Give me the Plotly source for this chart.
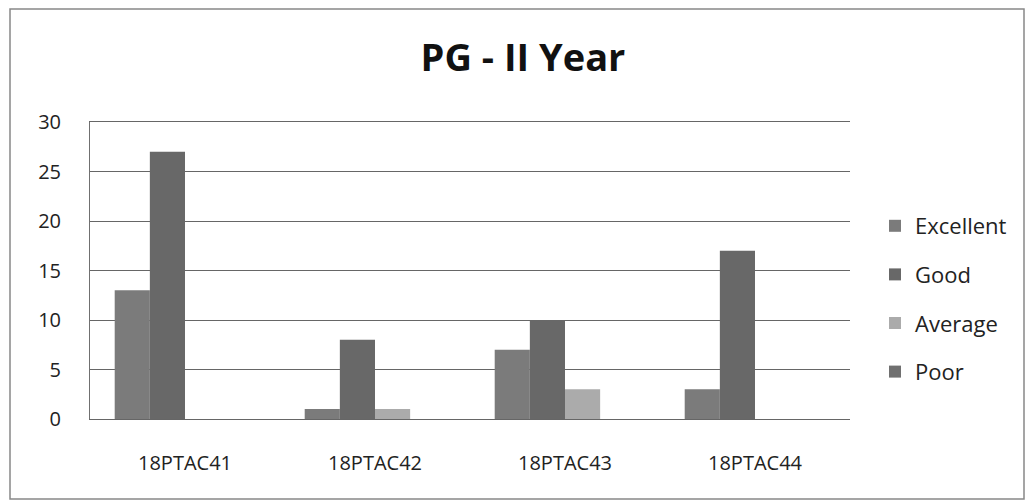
import plotly.graph_objects as go

categories = ["18PTAC41", "18PTAC42", "18PTAC43", "18PTAC44"]
series_names = ["Excellent", "Good", "Average", "Poor"]
excellent = [13, 1, 7, 3]
good = [27, 8, 10, 17]
average = [0, 1, 3, 0]
poor = [0, 0, 0, 0]
y_ticks = [0, 5, 10, 15, 20, 25, 30]

values = [excellent, good, average, poor]
colors = ["#7b7b7b", "#686868", "#ababab", "#707070"]

W, H = 1028, 502
L, R, T, B = 90, 178, 122, 83
pw, ph = W - L - R, H - T - B

def px_x(px):
    return (px - L) / pw

def px_y(py):
    return (H - B - py) / ph

fig = go.Figure()
for i, (name, vals) in enumerate(zip(series_names, values)):
    fig.add_trace(go.Bar(
        x=categories, y=vals, name=name, legendgroup=name,
        marker=dict(color=colors[i], line=dict(width=0)),
    ))

font = "Open Sans, Liberation Sans, sans-serif"
fig.update_layout(
    width=W, height=H,
    margin=dict(l=L, r=R, t=T, b=B, autoexpand=False),
    paper_bgcolor="white", plot_bgcolor="white",
    barmode="group", bargap=0.26, bargroupgap=0,
    title=dict(text="<b>PG - II Year</b>", x=523 / W, xanchor="center",
               y=1 - 58 / H, yanchor="middle",
               font=dict(family=font, size=38, color="#111111")),
    font=dict(family=font, size=20, color="#222222"),
    xaxis=dict(showgrid=False, showline=True, mirror=True, linecolor="#666666", linewidth=1,
               ticks="", tickfont=dict(size=20, color="#222222"), ticklabelstandoff=26),
    yaxis=dict(range=[0, 30], tickvals=y_ticks, showgrid=True, gridcolor="#666666",
               gridwidth=1, showline=True, linecolor="#707070", linewidth=1,
               zeroline=False, ticks="", tickfont=dict(size=20, color="#222222"),
               ticklabelstandoff=24),
    legend=dict(x=px_x(875), xanchor="left", y=px_y(299), yanchor="middle",
                font=dict(size=22, color="#222222"), tracegroupgap=17,
                bgcolor="rgba(0,0,0,0)"),
    showlegend=True,
    shapes=[dict(type="rect", xref="paper", yref="paper",
                 x0=px_x(10), x1=px_x(1024), y0=px_y(499), y1=px_y(9),
                 line=dict(color="#888888", width=1.5), fillcolor="rgba(0,0,0,0)",
                 layer="below")],
)

fig.write_html("out.html", config={"displayModeBar": False},
               post_script="document.body.style.margin='0';")
